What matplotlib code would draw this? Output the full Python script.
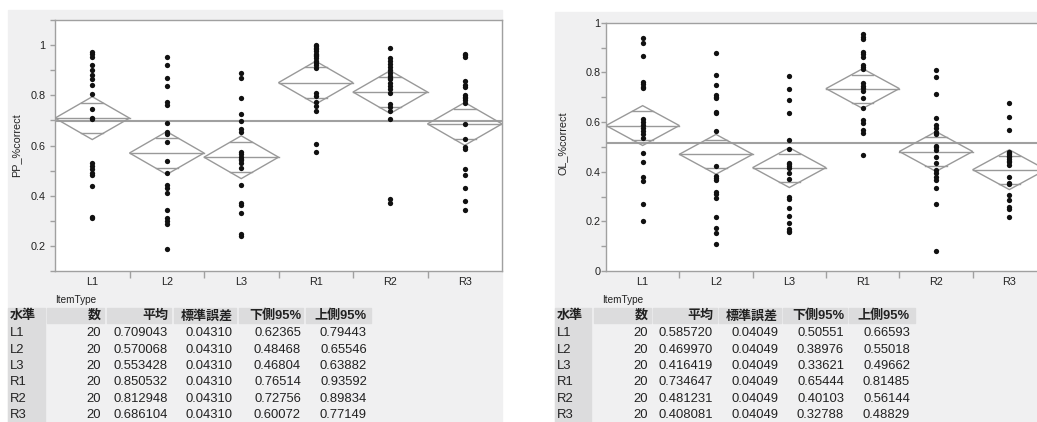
import numpy as np
import matplotlib
matplotlib.use('Agg')
import matplotlib.pyplot as plt
from matplotlib.patches import Rectangle, Polygon

plt.rcParams['font.family'] = ['Liberation Sans', 'Noto Sans CJK JP']

W, H = 1037, 422

levels = ['L1', 'L2', 'L3', 'R1', 'R2', 'R3']
counts = [20, 20, 20, 20, 20, 20]

# PP_%correct
pp_L1 = [0.972, 0.963, 0.954, 0.922, 0.900, 0.879, 0.863, 0.843, 0.805, 0.747,
         0.711, 0.707, 0.529, 0.518, 0.505, 0.492, 0.484, 0.439, 0.317, 0.310]
pp_L2 = [0.954, 0.920, 0.870, 0.837, 0.774, 0.760, 0.688, 0.655, 0.644, 0.614,
         0.537, 0.491, 0.443, 0.430, 0.412, 0.343, 0.312, 0.299, 0.289, 0.189]
pp_L3 = [0.890, 0.870, 0.790, 0.727, 0.698, 0.664, 0.655, 0.575, 0.565, 0.554,
         0.548, 0.542, 0.532, 0.509, 0.443, 0.372, 0.363, 0.333, 0.246, 0.240]
pp_R1 = [1.000, 0.996, 0.990, 0.985, 0.976, 0.966, 0.960, 0.956, 0.950, 0.936,
         0.930, 0.920, 0.910, 0.810, 0.797, 0.774, 0.757, 0.737, 0.605, 0.575]
pp_R2 = [0.987, 0.947, 0.936, 0.923, 0.912, 0.902, 0.890, 0.877, 0.870, 0.863,
         0.850, 0.837, 0.824, 0.808, 0.767, 0.753, 0.737, 0.704, 0.386, 0.372]
pp_R3 = [0.965, 0.960, 0.952, 0.857, 0.843, 0.833, 0.800, 0.795, 0.790, 0.780,
         0.770, 0.684, 0.624, 0.594, 0.585, 0.505, 0.481, 0.430, 0.379, 0.343]

pp_mean = [0.709043, 0.570068, 0.553428, 0.850532, 0.812948, 0.686104]
pp_se = [0.04310, 0.04310, 0.04310, 0.04310, 0.04310, 0.04310]
pp_lower = [0.62365, 0.48468, 0.46804, 0.76514, 0.72756, 0.60072]
pp_upper = [0.79443, 0.65546, 0.63882, 0.93592, 0.89834, 0.77149]

# OL_%correct
ol_L1 = [0.940, 0.919, 0.864, 0.762, 0.752, 0.742, 0.736, 0.612, 0.601, 0.588,
         0.574, 0.564, 0.550, 0.537, 0.477, 0.439, 0.379, 0.364, 0.268, 0.201]
ol_L2 = [0.879, 0.788, 0.750, 0.709, 0.702, 0.695, 0.642, 0.635, 0.565, 0.423,
         0.383, 0.375, 0.366, 0.319, 0.309, 0.295, 0.219, 0.174, 0.152, 0.107]
ol_L3 = [0.785, 0.732, 0.690, 0.635, 0.527, 0.490, 0.434, 0.430, 0.424, 0.416,
         0.396, 0.369, 0.299, 0.289, 0.252, 0.221, 0.195, 0.168, 0.163, 0.158]
ol_R1 = [0.953, 0.944, 0.933, 0.883, 0.874, 0.863, 0.830, 0.823, 0.815, 0.756,
         0.745, 0.736, 0.726, 0.695, 0.655, 0.608, 0.597, 0.568, 0.554, 0.468]
ol_R2 = [0.809, 0.780, 0.713, 0.615, 0.588, 0.574, 0.561, 0.550, 0.505, 0.498,
         0.487, 0.460, 0.434, 0.407, 0.393, 0.380, 0.366, 0.333, 0.268, 0.081]
ol_R3 = [0.675, 0.621, 0.568, 0.481, 0.476, 0.471, 0.465, 0.460, 0.450, 0.445,
         0.438, 0.427, 0.377, 0.353, 0.350, 0.306, 0.286, 0.256, 0.248, 0.216]

ol_mean = [0.585720, 0.469970, 0.416419, 0.734647, 0.481231, 0.408081]
ol_se = [0.04049, 0.04049, 0.04049, 0.04049, 0.04049, 0.04049]
ol_lower = [0.50551, 0.38976, 0.33621, 0.65444, 0.40103, 0.32788]
ol_upper = [0.66593, 0.55018, 0.49662, 0.81485, 0.56144, 0.48829]

PANEL_BG = '#f0f0f1'
CELL_BG = '#dcdcdd'
LINE = '#a0a0a0'
DIAM = '#999999'
TXT = '#222222'
AXFS = 7.8
TABFS = 9.4


def fx(x):
    return x / W


def fy(y):
    return 1 - y / H


fig = plt.figure(figsize=(W / 100, H / 100), dpi=100)
fig.patch.set_facecolor('white')

# grey report panels
fig.add_artist(Rectangle((fx(8), 0), fx(494), 1 - 10 / H,
                         transform=fig.transFigure, color=PANEL_BG, zorder=0))
fig.add_artist(Rectangle((fx(555), 0), fx(482), 1 - 12 / H,
                         transform=fig.transFigure, color=PANEL_BG, zorder=0))


def draw_chart(ax, groups, means, lowers, uppers, ylim, yticks, ylabels, pad):
    ax.set_facecolor('white')
    for s in ax.spines.values():
        s.set_color(LINE)
        s.set_linewidth(1.0)
    grand = np.mean(means)
    ax.axhline(grand, color=LINE, lw=1.5, zorder=2)
    k = 1 - 1 / np.sqrt(2)
    for i, (m, lo, up) in enumerate(zip(means, lowers, uppers)):
        ax.add_patch(Polygon([(i - 0.5, m), (i, up), (i + 0.5, m), (i, lo)],
                             closed=True, fill=False, ec=DIAM, lw=1.0, zorder=3))
        ax.plot([i - 0.5, i + 0.5], [m, m], color=DIAM, lw=1.0, zorder=3)
        d = (up - m) / np.sqrt(2)
        hw = 0.5 * k
        for yy in (m + d, m - d):
            ax.plot([i - hw, i + hw], [yy, yy], color=DIAM, lw=1.0, zorder=3)
        ax.plot([i] * len(groups[i]), groups[i], 'o', color='#111111',
                ms=3.8, mec='none', zorder=4)
    ax.set_xlim(-0.5, 5.5)
    ax.set_ylim(*ylim)
    ax.set_xticks(range(6))
    ax.set_xticklabels(levels)
    ax.set_xticks(np.arange(0.5, 5, 1), minor=True)
    ax.tick_params(axis='x', which='major', length=0, pad=4, labelsize=AXFS,
                   labelcolor=TXT)
    ax.tick_params(axis='x', which='minor', length=5, color=LINE, width=1.0)
    ax.set_yticks(yticks)
    ax.set_yticklabels(ylabels)
    ax.set_yticks(np.arange(ylim[0], ylim[1] + 0.001, 0.1), minor=True)
    ax.tick_params(axis='y', which='both', length=3.5, color=LINE, width=1.0,
                   direction='out')
    ax.tick_params(axis='y', which='major', pad=pad, labelsize=AXFS,
                   labelcolor=TXT)


ax1 = fig.add_axes([fx(55), fy(271), fx(447), (271 - 20) / H])
draw_chart(ax1, [pp_L1, pp_L2, pp_L3, pp_R1, pp_R2, pp_R3],
           pp_mean, pp_lower, pp_upper, (0.1, 1.1),
           [0.2, 0.4, 0.6, 0.8, 1.0], ['0.2', '0.4', '0.6', '0.8', '1'], 3.5)

ax2 = fig.add_axes([fx(606), fy(271), fx(440), (271 - 22.7) / H])
draw_chart(ax2, [ol_L1, ol_L2, ol_L3, ol_R1, ol_R2, ol_R3],
           ol_mean, ol_lower, ol_upper, (0.0, 1.0),
           [0, 0.2, 0.4, 0.6, 0.8, 1.0], ['0', '0.2', '0.4', '0.6', '0.8', '1'], 0.5)

fig.text(fx(16), fy(145), 'PP_%correct', rotation=90, ha='center', va='center',
         fontsize=AXFS, color=TXT)
fig.text(fx(563), fy(143), 'OL_%correct', rotation=90, ha='center', va='center',
         fontsize=AXFS, color=TXT)

# summary tables
headers = ['数', '平均', '標準誤差', '下側95%', '上側95%']
row_y = [333.3, 349.7, 366.0, 382.3, 398.7, 415.0]


def draw_table(x0, strip_right, cells, rights, counts, means, ses, lowers, uppers):
    fig.text(fx(x0 + 47), fy(300), 'ItemType', ha='left', va='center',
             fontsize=7.2, color=TXT)
    fig.add_artist(Rectangle((fx(x0), 0), fx(strip_right - x0), 1 - 307.7 / H,
                             transform=fig.transFigure, color=CELL_BG, zorder=1))
    for (a, b) in cells:
        fig.add_artist(Rectangle((fx(a), fy(323.3)), fx(b - a), 15.6 / H,
                                 transform=fig.transFigure, color=CELL_BG, zorder=1))
    fig.text(fx(x0 + 2), fy(316), '水準', ha='left', va='center', fontsize=TABFS,
             fontweight='bold', color=TXT)
    for h, r in zip(headers, rights):
        fig.text(fx(r), fy(316), h, ha='right', va='center', fontsize=TABFS,
                 fontweight='bold', color=TXT)
    for j, lv in enumerate(levels):
        y = fy(row_y[j])
        vals = [str(counts[j]), '%.6f' % means[j], '%.5f' % ses[j],
                '%.5f' % lowers[j], '%.5f' % uppers[j]]
        fig.text(fx(x0 + 2), y, lv, ha='left', va='center', fontsize=TABFS,
                 color=TXT)
        for v, r in zip(vals, rights):
            fig.text(fx(r), y, v, ha='right', va='center', fontsize=TABFS,
                     color=TXT)


draw_table(8, 45,
           [(47, 104), (107, 171), (174, 236), (239, 303), (306, 371)],
           [101, 168, 233, 301, 367],
           counts, pp_mean, pp_se, pp_lower, pp_upper)
draw_table(555, 591,
           [(594, 651), (653, 717), (719, 781), (783, 847), (849, 915)],
           [648, 713, 778, 844, 910],
           counts, ol_mean, ol_se, ol_lower, ol_upper)

fig.savefig('out.png', dpi=100, facecolor='white')
